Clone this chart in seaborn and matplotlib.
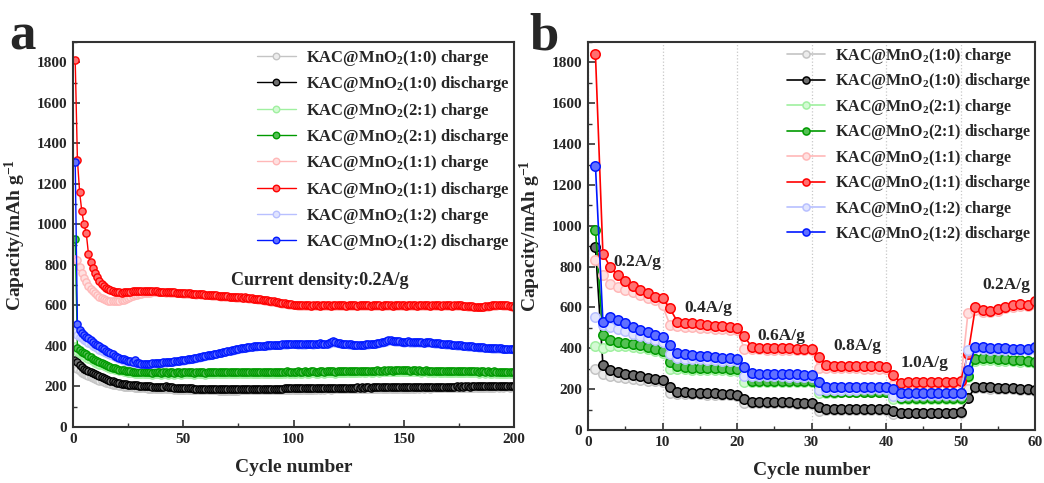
import matplotlib
matplotlib.use("Agg")
import matplotlib.pyplot as plt
import seaborn as sns
import numpy as np
from matplotlib.ticker import MultipleLocator

# ---------------- data: panel a (cycling at 0.2 A/g, 200 cycles) ----------------
cycles_a = list(range(1, 201))

a_c10 = [290,285,275,268,262,256,251,246,241,237,233,229,225,221,218,215,212,209,207,205,
         203,201,199,198,197,196,195,194,193,192,192,191,191,190,190,189,189,188,188,188,
         187,187,187,186,186,185,185,185,184,184,184,183,183,183,183,182,182,182,182,182,
         181,181,181,181,181,180,180,180,180,180,180,180,180,180,180,181,181,181,181,181,
         181,181,182,182,182,182,182,182,183,183,183,183,183,183,183,184,184,184,184,184,
         184,185,184,185,184,185,185,184,185,185,186,185,186,185,186,186,185,186,186,187,
         186,187,186,187,187,186,187,187,188,187,188,187,188,188,187,188,188,189,188,189,
         188,189,189,188,189,189,190,189,190,189,190,190,189,190,190,191,190,191,190,191,
         191,190,191,191,192,191,192,191,192,192,191,192,192,193,192,193,192,193,193,192,
         193,193,194,193,194,193,194,194,193,194,194,195,194,195,194,195,195,194,195,195]
a_d10 = [330,320,305,295,288,282,276,270,265,260,255,250,245,240,236,232,228,225,222,219,
         216,214,212,210,209,208,207,206,205,204,203,202,202,201,200,199,199,198,198,197,
         197,202,196,195,195,194,194,193,193,192,192,191,191,191,190,190,190,189,189,189,
         189,188,188,188,188,187,187,187,187,186,186,186,186,186,186,187,187,187,187,187,
         188,188,188,188,189,189,189,189,189,190,190,190,190,190,190,191,191,191,191,191,
         191,192,191,192,191,192,192,191,192,192,193,192,193,192,193,193,192,193,193,194,
         193,194,193,194,194,193,194,194,195,194,195,194,195,195,194,195,195,196,195,196,
         195,196,196,195,196,196,197,196,197,196,197,197,196,197,197,198,197,198,197,198,
         198,197,198,198,199,198,199,198,199,199,198,199,199,200,199,200,199,200,200,199,
         200,200,201,200,201,200,201,201,200,201,201,202,201,202,201,202,202,201,202,202]
a_c21 = [400,370,362,355,348,342,336,330,324,318,313,308,304,300,296,292,288,285,282,279,
         276,274,272,270,268,266,265,264,263,262,261,261,260,261,260,259,260,261,260,259,
         260,261,259,260,261,259,261,260,259,261,260,261,262,260,259,261,262,260,261,259,
         261,262,260,261,263,261,260,262,261,263,262,261,260,262,263,261,262,263,261,262,
         263,262,261,263,264,262,261,263,262,264,263,262,264,263,262,264,265,263,262,264,
         263,265,264,263,265,264,263,265,266,264,263,265,266,264,265,267,266,265,264,266,
         267,265,266,268,267,266,268,267,266,268,269,267,268,269,268,267,269,270,268,269,
         270,269,271,270,269,271,272,270,271,272,270,271,269,270,271,269,270,268,269,270,
         268,269,267,268,269,267,268,266,267,268,266,267,268,266,267,265,266,267,265,266,
         267,265,266,264,265,266,264,265,263,264,265,263,264,262,263,264,262,263,261,262]
a_d21 = [930,390,380,372,365,358,350,343,336,330,325,320,315,310,305,300,296,292,289,286,
         283,281,279,277,275,274,273,272,271,270,270,269,270,269,270,268,269,270,269,268,
         269,270,268,269,270,268,270,269,268,270,269,270,271,269,268,270,271,269,270,268,
         270,271,269,270,272,270,269,271,270,272,271,270,269,271,272,270,271,272,270,271,
         272,271,270,272,273,271,270,272,271,273,272,271,273,272,271,273,274,272,271,273,
         272,274,273,272,274,273,272,274,275,273,272,274,275,273,274,276,275,274,273,275,
         276,274,275,277,276,275,277,276,275,277,278,276,277,278,277,276,278,279,277,278,
         279,278,280,279,278,280,281,279,280,281,279,280,278,279,280,278,279,277,278,279,
         277,278,276,277,278,276,277,275,276,277,275,276,277,275,276,274,275,276,274,275,
         276,274,275,273,274,275,273,274,272,273,274,272,273,271,272,273,271,272,270,271]
a_c11 = [830,824,790,760,735,715,698,683,670,660,650,642,635,630,626,623,621,620,620,621,
         623,626,629,633,637,641,645,649,652,655,657,659,661,662,663,664,664,665,665,665,
         664,663,664,662,661,662,660,659,660,658,657,656,657,655,654,653,654,652,651,650,
         649,649,647,648,646,645,644,645,643,642,641,640,641,639,638,637,636,637,635,634,
         633,631,630,629,627,626,624,623,621,619,617,615,613,611,609,607,605,603,602,601,
         600,599,598,597,597,598,597,596,597,598,597,596,597,598,597,597,596,597,598,597,
         597,598,597,596,597,597,598,597,596,597,597,598,597,597,596,597,598,597,597,596,
         597,598,597,597,596,597,598,597,597,597,596,597,598,597,597,596,597,597,598,597,
         597,596,597,598,597,597,596,597,597,598,597,596,597,597,598,597,596,595,594,593,
         592,591,591,590,590,591,592,593,595,597,598,599,600,600,599,598,597,595,592,589]
a_d11 = [1810,1320,1160,1064,1000,957,856,816,784,760,740,722,708,697,688,680,674,670,667,665,
         664,663,664,665,666,668,669,670,671,671,672,671,672,670,671,670,669,670,668,668,
         667,666,667,665,664,665,663,662,663,661,660,659,660,658,657,656,657,655,654,653,
         652,652,650,651,649,648,647,648,646,645,644,643,644,642,641,640,639,640,638,637,
         636,634,633,632,630,629,627,626,624,622,620,618,616,614,612,610,608,606,605,604,
         603,602,601,600,600,601,600,599,600,601,600,599,600,601,600,600,599,600,601,600,
         600,601,600,599,600,600,601,600,599,600,600,601,600,600,599,600,601,600,600,599,
         600,601,600,600,599,600,601,600,600,600,599,600,601,600,600,599,600,600,601,600,
         600,599,600,601,600,600,599,600,600,601,600,599,600,600,601,600,599,598,597,596,
         595,594,594,593,593,594,595,596,598,600,601,602,603,603,602,601,600,598,595,592]
a_c12 = [470,455,445,437,430,422,415,408,401,394,388,382,376,370,364,359,354,349,344,340,
         336,332,328,325,322,319,317,315,313,311,310,309,309,310,311,312,313,314,315,316,
         317,318,319,320,321,322,324,325,327,328,330,332,334,336,338,340,342,344,346,349,
         351,353,355,358,360,363,365,368,370,373,375,377,379,382,384,386,388,390,391,393,
         394,396,397,398,399,400,400,401,402,403,403,404,405,405,406,406,407,408,408,409,
         408,407,408,406,407,409,410,408,407,409,410,411,409,408,410,412,414,418,416,413,
         412,410,409,408,407,406,405,404,404,403,404,405,406,407,408,409,410,412,414,416,
         418,421,424,423,422,421,420,419,418,417,418,419,417,416,417,418,416,415,414,415,
         416,417,413,412,411,410,409,408,407,406,405,404,403,402,401,400,399,398,397,396,
         395,394,393,392,391,390,389,388,388,387,387,386,386,385,385,384,384,383,383,382]
a_d12 = [1310,510,480,465,455,445,437,428,420,412,405,398,390,383,376,370,364,358,352,347,
         342,338,334,330,327,324,321,332,318,315,313,312,311,312,313,314,315,316,317,318,
         319,320,321,322,323,324,326,327,329,330,332,334,336,338,340,342,344,346,348,351,
         353,355,357,360,362,365,367,370,372,375,377,379,381,384,386,388,390,392,393,395,
         396,398,399,400,401,402,402,403,404,405,405,406,407,407,408,408,409,410,410,411,
         410,409,410,408,409,411,412,410,409,411,412,413,411,410,412,414,418,426,420,416,
         414,412,411,410,409,408,407,406,406,405,406,407,408,409,410,411,412,414,416,418,
         421,425,429,427,425,424,423,422,421,420,421,422,420,419,420,421,419,418,417,418,
         419,420,416,415,414,413,412,411,410,409,408,407,406,405,404,403,402,401,400,399,
         398,397,396,395,394,393,392,391,390,390,389,389,388,388,387,387,386,386,385,385]

# ---------------- data: panel b (rate capability, 60 cycles) ----------------
cycles_b = list(range(1, 61))

b_c10 = [298,275,265,260,255,250,246,242,238,234, 180,178,176,175,174,173,172,171,170,168,
         130,130,130,130,130,130,130,129,129,129, 92,100,100,100,100,100,100,100,100,100,
         76,82,82,82,82,82,82,82,82,82, 200,205,204,203,202,200,199,197,195,192]
b_d10 = [895,320,295,282,272,267,262,257,252,247, 212,188,185,183,181,180,179,177,176,173,
         152,136,135,135,135,135,135,134,134,133, 115,105,104,104,104,104,104,104,104,103,
         95,85,85,85,85,85,85,85,85,86, 155,212,212,210,208,207,205,203,200,197]
b_c21 = [410,400,410,412,410,405,400,395,385,375, 300,298,297,296,295,294,293,292,291,290,
         235,235,235,235,235,235,234,234,234,234, 180,182,183,184,184,184,185,185,185,185,
         150,150,150,151,151,151,152,152,152,152, 260,340,342,342,340,338,336,334,332,330]
b_d21 = [980,465,440,432,427,422,417,408,398,388, 335,312,308,306,305,304,303,302,301,298,
         268,242,241,240,240,240,240,239,239,238, 215,188,187,187,187,187,187,187,187,187,
         170,155,156,156,157,157,157,157,157,158, 265,350,353,352,350,347,344,341,338,335]
b_c11 = [832,758,717,700,688,676,662,648,635,610, 514,510,505,502,500,498,495,493,490,488,
         398,395,395,394,394,394,393,393,392,390, 305,303,303,302,302,302,301,301,300,300,
         220,225,226,226,227,227,228,228,229,230, 572,590,580,578,585,595,600,605,605,615]
b_d11 = [1840,864,796,758,729,704,685,669,652,644, 595,530,526,522,518,514,510,507,503,498,
         458,405,402,401,400,400,400,399,398,395, 357,319,315,314,313,313,312,312,311,310,
         270,232,233,233,234,234,235,235,236,238, 370,600,589,584,592,602,612,618,614,633]
b_c12 = [555,515,505,495,485,470,460,450,440,430, 370,355,350,348,346,344,342,340,338,336,
         262,262,262,262,262,262,261,261,260,260, 198,197,198,198,198,198,199,199,199,200,
         168,168,169,169,170,170,170,170,171,171, 391,400,396,394,393,392,391,390,390,395]
b_d12 = [1295,530,552,539,523,506,490,479,466,457, 417,376,370,365,362,360,357,355,352,350,
         310,280,276,275,274,273,273,272,271,270, 236,211,211,211,211,211,211,212,212,212,
         203,180,180,180,180,181,181,181,181,182, 293,407,405,403,401,400,399,398,397,405]

labels = ["KAC@MnO$_2$(1:0) charge", "KAC@MnO$_2$(1:0) discharge",
          "KAC@MnO$_2$(2:1) charge", "KAC@MnO$_2$(2:1) discharge",
          "KAC@MnO$_2$(1:1) charge", "KAC@MnO$_2$(1:1) discharge",
          "KAC@MnO$_2$(1:2) charge", "KAC@MnO$_2$(1:2) discharge"]
colors = ["#c4c4c4", "#000000", "#a0f0a0", "#009a00",
          "#ffb8b8", "#ff0000", "#b8c0ff", "#0018ff"]
faces = ["#ececec", "#707070", "#d4fad4", "#55c055",
         "#ffe0e0", "#ff7070", "#e0e4ff", "#6070ff"]

series_a = [a_c10, a_d10, a_c21, a_d21, a_c11, a_d11, a_c12, a_d12]
series_b = [b_c10, b_d10, b_c21, b_d21, b_c11, b_d11, b_c12, b_d12]

rate_labels = ["0.2A/g", "0.4A/g", "0.6A/g", "0.8A/g", "1.0A/g", "0.2A/g"]
rate_x = [6.6, 16.1, 25.9, 36.2, 45.2, 56.2]
rate_y = [822, 597, 462, 410, 330, 709]

# ---------------- style ----------------
sns.set_style("ticks")
plt.rcParams['font.family'] = ['Liberation Serif', 'DejaVu Serif']
plt.rcParams['font.weight'] = 'bold'
plt.rcParams['axes.labelweight'] = 'bold'
plt.rcParams['mathtext.fontset'] = 'custom'
plt.rcParams['mathtext.rm'] = 'Liberation Serif:bold'
plt.rcParams['mathtext.it'] = 'Liberation Serif:bold:italic'
plt.rcParams['mathtext.bf'] = 'Liberation Serif:bold'

fig = plt.figure(figsize=(10.44, 4.83), dpi=100)
ax_a = fig.add_axes([73/1044, 1-427/483, (514-73)/1044, (427-42)/483])
ax_b = fig.add_axes([588/1044, 1-430/483, (1035-588)/1044, (430-42)/483])


def draw(ax, x, series, ms, lw, mew):
    for lab, y, col, fc in zip(labels, series, colors, faces):
        sns.lineplot(x=x, y=y, ax=ax, color=col, marker='o', markersize=ms,
                     markerfacecolor=fc, markeredgecolor=col, markeredgewidth=mew,
                     linewidth=lw, label=lab, estimator=None)


draw(ax_a, cycles_a, series_a, 5.2, 1.0, 1.0)
draw(ax_b, cycles_b, series_b, 6.8, 1.2, 1.1)

for ax in (ax_a, ax_b):
    ax.set_ylim(0, 1900)
    ax.yaxis.set_major_locator(MultipleLocator(200))
    ax.yaxis.set_minor_locator(MultipleLocator(100))
    ax.tick_params(axis='both', which='both', direction='in', top=False, right=False,
                   color='#333333')
    ax.tick_params(axis='both', which='major', length=5, width=1.2, labelsize=11, pad=4)
    ax.tick_params(axis='both', which='minor', length=3, width=1.0)
    for sp in ax.spines.values():
        sp.set_visible(True)
        sp.set_color('#333333')
        sp.set_linewidth(1.5)
    for t in ax.get_xticklabels() + ax.get_yticklabels():
        t.set_fontweight('bold')
    ax.set_xlabel("Cycle number", fontsize=14, fontweight='bold', labelpad=10)
    ax.set_ylabel("Capacity/mAh g$^{-1}$", fontsize=14, fontweight='bold', labelpad=6)

ax_a.set_xlim(0, 200)
ax_a.xaxis.set_major_locator(MultipleLocator(50))
ax_a.xaxis.set_minor_locator(MultipleLocator(25))
ax_b.set_xlim(0, 60)
ax_b.xaxis.set_major_locator(MultipleLocator(10))
ax_b.xaxis.set_minor_locator(MultipleLocator(5))
ax_b.grid(axis='x', which='major', linestyle=':', color='#c8c8c8', linewidth=0.9)
ax_b.set_axisbelow(True)

ax_a.legend(loc='upper right', bbox_to_anchor=(1.005, 1.002), frameon=False, fontsize=12,
            handlelength=2.3, handletextpad=0.6, labelspacing=0.38, borderaxespad=0.0,
            markerscale=0.9)
ax_b.legend(loc='upper right', bbox_to_anchor=(1.005, 1.006), frameon=False, fontsize=11.5,
            handlelength=2.4, handletextpad=0.6, labelspacing=0.34, borderaxespad=0.0,
            markerscale=0.75)

ax_a.text(112, 723, "Current density:0.2A/g", fontsize=13, fontweight='bold',
          ha='center', va='center')
for lab, x, y in zip(rate_labels, rate_x, rate_y):
    ax_b.text(x, y, lab, fontsize=12.5, fontweight='bold', ha='center', va='center')

fig.text(9/1044, 1-49/483, "a", fontsize=38, fontweight='bold', va='baseline')
fig.text(529/1044, 1-49/483, "b", fontsize=38, fontweight='bold', va='baseline')

fig.savefig("out.png", dpi=100)
